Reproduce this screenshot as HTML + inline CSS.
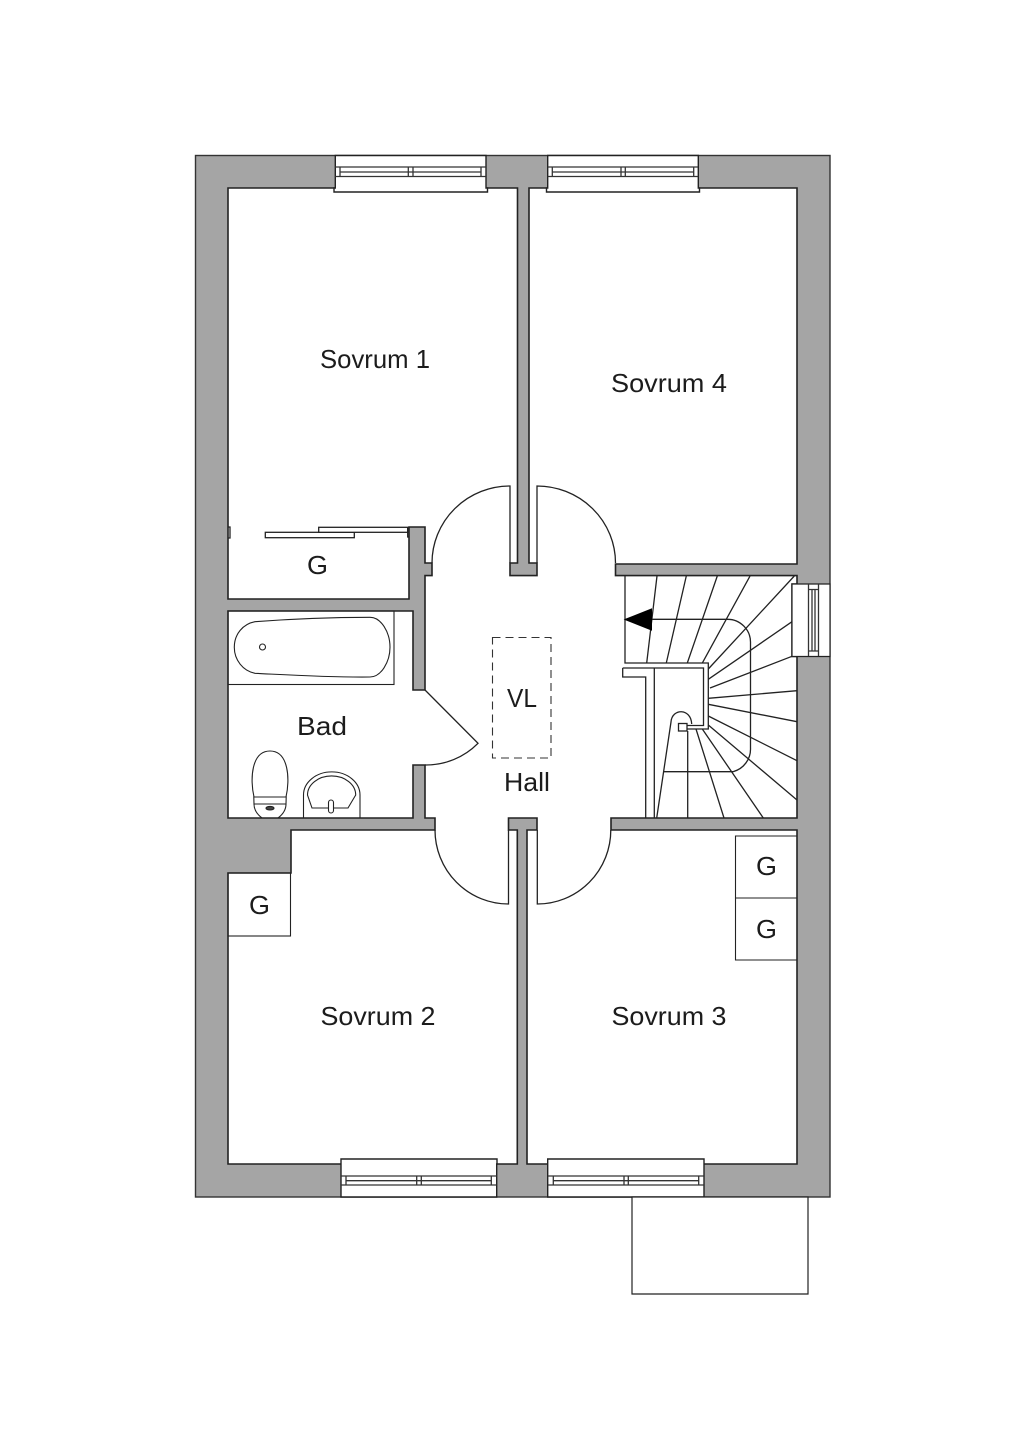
<!DOCTYPE html>
<html><head><meta charset="utf-8"><style>
html,body{margin:0;padding:0;background:#fff}
svg{display:block}
text{font-family:"Liberation Sans",sans-serif;font-size:26px;fill:#1c1c1c}
</style></head><body>
<svg width="1024" height="1448" viewBox="0 0 1024 1448" xmlns="http://www.w3.org/2000/svg">
<rect width="1024" height="1448" fill="#fff"/>
<rect x="195.5" y="155.5" width="634.5" height="1041.5" fill="#a5a5a5" stroke="#333" stroke-width="1.4"/>
<path d="M228,188H517.5V563H510V575.6H537V563H529V188H797V564H615.5V575.6H797V584H792V656.5H797V818H611V830H797V1164H527V830H537V818H508.5V830H517.3V1164H228V873H291V830H435V818H425V765H413V818H228V611H413V690H425V575.6H432V563H425V527H409V599H228Z" fill="#fff" stroke="#222" stroke-width="1.6" stroke-linejoin="miter"/>
<g fill="#fff" stroke="#222" stroke-width="1.4">
<path d="M335.3,155.5H486V188H487.5V192H334V188H335.3Z"/>
<path d="M547.7,155.5H698.3V188H699.5V192H546.5V188H547.7Z"/>
<path d="M341,1197H496.7V1164H497V1159H341V1164Z"/>
<path d="M547.7,1197H704V1159H547.7Z"/>
<path d="M792,584H830V656.5H792Z" stroke-width="1.2"/>
<path d="M632,1197H808V1294H632Z" stroke-width="1.2"/>
</g>
<g fill="none" stroke="#333" stroke-width="1.3">
<path d="M335.3,167H486M335.3,176.5H486M340,167V176.5M408.3,167V176.5M413,167V176.5M481,167V176.5M340,172H481"/>
<path d="M547.7,167H698.3M547.7,176.5H698.3M552.3,167V176.5M621,167V176.5M625.3,167V176.5M693.7,167V176.5M552.3,172H693.7"/>
<path d="M341,1176H496.7M341,1185H496.7M346,1176V1185M416.7,1176V1185M421.3,1176V1185M491.3,1176V1185M346,1180.7H491.3"/>
<path d="M547.7,1176H704M547.7,1185H704M553.3,1176V1185M624,1176V1185M628.3,1176V1185M698.7,1176V1185M553.3,1180.7H698.7"/>
<path d="M808.5,584V656M818.5,584V656M812,589V651M815,589V651M808.5,589.5H818.5M808.5,651H818.5"/>
</g>
<g fill="none" stroke="#222" stroke-width="1.3">
<path d="M510,563V486A78,77 0 0 0 432,563"/>
<path d="M537,563V486A78.500,77 0 0 1 615.500,563"/>
<path d="M508.500,830V904A73.500,74 0 0 1 435,830"/>
<path d="M537.300,830V904A73.500,74 0 0 0 610.800,830"/>
<path d="M425,690L478,743.300A73,73 0 0 1 425,765"/>
<path d="M625,575.600V663H708.300V729H687"/>
<path d="M622.700,668H703.500V725.500H687M622.700,668V677H645.700V818M654.300,668V818"/>
<rect x="678.500" y="723.500" width="8.500" height="7.500" fill="#fff"/>
<path d="M656.700,818L671,722C672,708 691,708 691.700,724M687.700,731V818"/>
<path d="M657,576L646.700,663M686.300,576L666.300,663M717.300,576L687.300,663M750,576L702.300,663M794.300,576L708.300,669M792,621.700L708.300,679.300M792,656.300L710,688M797,690.700L708.300,698.300M797,721.700L708.300,704.300M797,760.700L708.300,716M797,800L708.300,725M763.300,818L702.300,729M724,818L696,729"/>
<path d="M651,619.300H727A23,23 0 0 1 750.500,643V748A23.500,23.500 0 0 1 733,771.700H663.300"/>
<rect x="265.300" y="532.300" width="89" height="5.400" fill="#fff"/>
<rect x="318.700" y="527.300" width="89" height="5" fill="#fff"/>
<path d="M228,527H230V538H228M409,537H407.700V527"/>
<rect x="228" y="611" width="166" height="73.500" stroke-width="1.1"/>
<path d="M255,621.700C290,619 330,617.300 370,617.300C381,617.300 390,632 390,647.300C390,662 381,677 370,677C330,677.500 290,675 255,673.300C243,671 234.300,660 234.300,647.300C234.300,634 243,624 255,621.700Z" stroke-width="1.1"/>
<circle cx="262.500" cy="647" r="3" stroke-width="1.1"/>
<g stroke-width="1.1">
<path d="M254,797C250,780 251,751 270,751C289,751 290,780 286,797Z"/>
<path d="M253.800,797H286.200L286,804H254Z"/>
<path d="M254,804C254,811 258,815 262,818H278C282,815 286,811 286,804"/>
<ellipse cx="270" cy="808.200" rx="4" ry="1.800" fill="#444"/>
<path d="M303.500,818V795A27.500,22.500 0 0 1 360,795V818"/>
<path d="M307.500,795A24,19 0 0 1 355.700,795L348,808H312Z"/>
<rect x="328.500" y="800" width="5" height="13" rx="2.500" fill="#fff"/>
<rect x="228" y="873" width="62.500" height="63"/>
<path d="M797,836H735.500V960H797M735.500,898H797"/>
</g>
<rect x="492.500" y="637.500" width="58.500" height="120.500" stroke="#333" stroke-width="1.1" stroke-dasharray="8 5"/>
</g>
<path d="M625,619.500L651.500,609V630Z" fill="#000" stroke="#000" stroke-width="1"/>
<text x="320" y="368" textLength="110" lengthAdjust="spacingAndGlyphs">Sovrum 1</text>
<text x="611" y="392" textLength="116" lengthAdjust="spacingAndGlyphs">Sovrum 4</text>
<text x="320.500" y="1025" textLength="115" lengthAdjust="spacingAndGlyphs">Sovrum 2</text>
<text x="611.500" y="1025" textLength="115" lengthAdjust="spacingAndGlyphs">Sovrum 3</text>
<text x="307" y="574" textLength="21" lengthAdjust="spacingAndGlyphs">G</text>
<text x="249" y="914" textLength="21" lengthAdjust="spacingAndGlyphs">G</text>
<text x="756" y="875" textLength="21" lengthAdjust="spacingAndGlyphs">G</text>
<text x="756" y="938" textLength="21" lengthAdjust="spacingAndGlyphs">G</text>
<text x="297" y="735" textLength="50" lengthAdjust="spacingAndGlyphs">Bad</text>
<text x="507" y="707" textLength="30" lengthAdjust="spacingAndGlyphs">VL</text>
<text x="504" y="791" textLength="46" lengthAdjust="spacingAndGlyphs">Hall</text>
</svg>
</body></html>
